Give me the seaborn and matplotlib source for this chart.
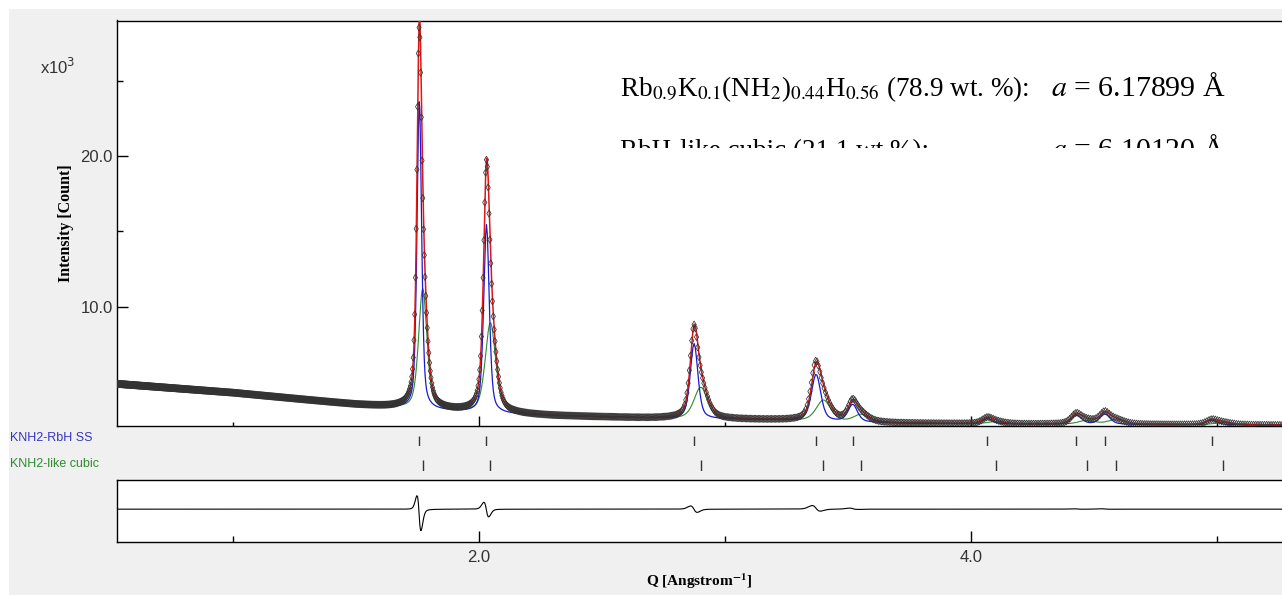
import numpy as np
import pandas as pd
import matplotlib
matplotlib.use("Agg")
import matplotlib.pyplot as plt
import seaborn as sns
from matplotlib.patches import Rectangle
from matplotlib.transforms import Bbox, TransformedBbox
from matplotlib.ticker import FixedLocator, NullFormatter, FixedFormatter

# ------------------------------------------------------------------
# Data (intensity in units of 10^3 counts)
# ------------------------------------------------------------------
q_limits = [0.528, 5.264]

# background level (observed baseline)
bg_q = [0.528, 1.0, 1.5, 1.7, 2.0, 2.3, 2.7, 3.2, 3.7, 4.2, 5.264]
bg_i = [4.88, 4.29, 3.50, 3.25, 2.95, 2.76, 2.60, 2.48, 2.27, 2.21, 2.15]

# phase 1: KNH2-RbH SS (blue)
ss_pos = [1.757, 2.030, 2.874, 3.370, 3.519, 4.066, 4.428, 4.544, 4.979]
ss_height = [20.5, 12.5, 5.0, 3.1, 1.15, 0.35, 0.60, 0.68, 0.30]
ss_fwhm = [0.022, 0.027, 0.037, 0.045, 0.045, 0.050, 0.050, 0.050, 0.055]

# phase 2: KNH2-like cubic (green)
cub_pos = [1.771, 2.046, 2.901, 3.400, 3.553, 4.100, 4.470, 4.588, 5.024]
cub_height = [8.0, 6.0, 2.1, 1.4, 0.5, 0.15, 0.25, 0.30, 0.15]
cub_fwhm = [0.040, 0.050, 0.065, 0.070, 0.070, 0.080, 0.080, 0.080, 0.085]

# observed peaks (slightly different from the fit -> difference curve)
obs_ss_pos = [1.7558, 2.029, 2.8725, 3.3675, 3.5175, 4.066, 4.427, 4.543, 4.979]
obs_ss_height = [20.0, 12.45, 5.0, 3.2, 1.2, 0.35, 0.62, 0.70, 0.30]

ytick_vals = [10.0, 20.0]
ytick_labels = ["10.0", "20.0"]
yminor_vals = [5.0, 15.0, 25.0]
xtick_vals = [2.0, 4.0]
xtick_labels = ["2.0", "4.0"]
xminor_vals = [1.0, 3.0, 5.0]

phase_names = ["KNH2-RbH SS", "KNH2-like cubic"]
line1_left = r"Rb$_{0.9}$K$_{0.1}$(NH$_{2}$)$_{0.44}$H$_{0.56}$ (78.9 wt. %):"
line1_right = r"$a$ = 6.17899 Å"
line2_left = "RbH-like cubic (21.1 wt %):"
line2_right = r"$a$ = 6.10120 Å"

# ------------------------------------------------------------------
# Profiles
# ------------------------------------------------------------------
q = np.geomspace(q_limits[0], q_limits[1], 1350)
bg = np.interp(q, bg_q, bg_i)


def profile(pos, height, fwhm, eta=0.5):
    out = np.zeros_like(q)
    for p, h, w in zip(pos, height, fwhm):
        x = (q - p) / (w / 2.0)
        lor = 1.0 / (1.0 + x ** 2)
        gau = np.exp(-np.log(2) * x ** 2)
        out += h * (eta * lor + (1 - eta) * gau)
    return out


ss_curve = bg + profile(ss_pos, ss_height, ss_fwhm)
cub_curve = bg + profile(cub_pos, cub_height, cub_fwhm)
calc_curve = bg + profile(ss_pos, ss_height, ss_fwhm) + profile(cub_pos, cub_height, cub_fwhm)
obs_curve = bg + profile(obs_ss_pos, obs_ss_height, ss_fwhm) + profile(cub_pos, cub_height, cub_fwhm)
diff_curve = obs_curve - calc_curve

df = pd.DataFrame({"Q": q, "obs": obs_curve, "calc": calc_curve,
                   "ss": ss_curve, "cub": cub_curve, "diff": diff_curve})

# ------------------------------------------------------------------
# Figure
# ------------------------------------------------------------------
sns.set_theme(style="white")
plt.rcParams["font.family"] = ["Liberation Sans", "DejaVu Sans"]
plt.rcParams["mathtext.fontset"] = "stix"

W, H = 1282, 595
fig = plt.figure(figsize=(W / 100, H / 100), dpi=100, facecolor="white")


def fx(px):
    return px / W


def fy(py):
    return 1 - py / H


fig.add_artist(Rectangle((fx(9), 0), 1, fy(9), transform=fig.transFigure,
                         facecolor="#f0f0f0", edgecolor="none", zorder=-10))

left = fx(117)
width = 1 - left
ax = fig.add_axes([left, fy(425.5), width, (425.5 - 20.5) / H])
ax_t1 = fig.add_axes([left, fy(446), width, 10 / H])
ax_t2 = fig.add_axes([left, fy(471), width, 11 / H])
ax_d = fig.add_axes([left, fy(542.3), width, 61.8 / H])

RED = "#e01515"
BLUE = "#1a1ad0"
GREEN = "#2e8b2e"

sns.lineplot(data=df, x="Q", y="cub", ax=ax, color=GREEN, linewidth=0.8, sort=False, zorder=2)
sns.lineplot(data=df, x="Q", y="ss", ax=ax, color=BLUE, linewidth=0.9, sort=False, zorder=3)
sns.lineplot(data=df, x="Q", y="calc", ax=ax, color=RED, linewidth=1.1, sort=False, zorder=4)
sns.scatterplot(data=df, x="Q", y="obs", ax=ax, marker="d", s=13, facecolor="none",
                edgecolor="#333333", linewidth=0.55, zorder=5)

ax.set_xlim(q_limits)
ax.set_ylim(2.12, 28.99)
ax.set_facecolor("white")
ax.set_xlabel("")
ax.set_ylabel("Intensity [Count]", family="Liberation Serif", fontweight="bold",
              fontsize=11.5, color="black", labelpad=5)
ax.yaxis.set_major_locator(FixedLocator(ytick_vals))
ax.yaxis.set_major_formatter(FixedFormatter(ytick_labels))
ax.yaxis.set_minor_locator(FixedLocator(yminor_vals))
ax.xaxis.set_major_locator(FixedLocator(xtick_vals))
ax.xaxis.set_minor_locator(FixedLocator(xminor_vals))
ax.xaxis.set_major_formatter(NullFormatter())
ax.tick_params(axis="y", which="major", direction="in", length=8, width=1,
               color="black", labelsize=12, labelcolor="#333333", pad=3, left=True)
ax.tick_params(axis="y", which="minor", direction="in", length=4.3, width=1,
               color="black", left=True)
ax.tick_params(axis="x", which="major", direction="in", length=7.2, width=1,
               color="black", bottom=True)
ax.tick_params(axis="x", which="minor", direction="in", length=3.2, width=1,
               color="black", bottom=True)
for s in ["left", "top", "bottom"]:
    ax.spines[s].set_color("black")
    ax.spines[s].set_linewidth(1.0)
ax.spines["right"].set_visible(False)

# reflection tick marks
for axt, pos in ((ax_t1, ss_pos), (ax_t2, cub_pos)):
    sns.rugplot(x=pos, ax=axt, height=1.0, color="#333333", linewidth=1.0,
                expand_margins=False)
    axt.set_xlim(q_limits)
    axt.set_ylim(0, 1)
    axt.axis("off")
    axt.patch.set_alpha(0)

fig.text(fx(10), fy(438), phase_names[0], color="#3535c0", fontsize=9, va="center", ha="left")
fig.text(fx(10), fy(464), phase_names[1], color="#2f8a2f", fontsize=9, va="center", ha="left")

# difference curve
sns.lineplot(data=df, x="Q", y="diff", ax=ax_d, color="black", linewidth=0.8, sort=False)
ax_d.set_xlim(q_limits)
ax_d.set_ylim(-2.75, 2.38)
ax_d.set_facecolor("white")
ax_d.set_ylabel("")
ax_d.set_yticks([])
ax_d.xaxis.set_major_locator(FixedLocator(xtick_vals))
ax_d.xaxis.set_major_formatter(FixedFormatter(xtick_labels))
ax_d.xaxis.set_minor_locator(FixedLocator(xminor_vals))
ax_d.tick_params(axis="x", which="major", direction="in", length=7.9, width=1,
                 color="black", labelsize=12, labelcolor="#333333", pad=5.5, bottom=True)
ax_d.tick_params(axis="x", which="minor", direction="in", length=4.3, width=1,
                 color="black", bottom=True)
for s in ["left", "top", "bottom"]:
    ax_d.spines[s].set_color("black")
    ax_d.spines[s].set_linewidth(1.0)
ax_d.spines["right"].set_visible(False)
ax_d.set_xlabel(r"Q [Angstrom$^{\mathbf{-1}}$]", family="Liberation Serif",
                fontweight="bold", fontsize=11, color="black", labelpad=5)

# x10^3 multiplier
fig.text(fx(40), fy(74), r"x10$^{3}$", fontsize=12, color="#333333", ha="left",
         va="baseline", math_fontfamily="dejavusans")

# annotation
tfont = dict(family="Liberation Serif", fontsize=19.5, color="black", va="baseline")
rfont = dict(family="Liberation Serif", fontsize=21.5, color="black", va="baseline")
fig.text(fx(620), fy(96), line1_left, ha="left", **tfont)
fig.text(fx(1226), fy(96), line1_right, ha="right", **rfont)
clip_inv = TransformedBbox(Bbox([[0, fy(148)], [1, 1]]), fig.transFigure)
t1 = fig.text(fx(620), fy(158), line2_left, ha="left", **tfont)
t2 = fig.text(fx(1226), fy(158), line2_right, ha="right", **rfont)
for t in (t1, t2):
    t.set_clip_on(True)
    t.set_clip_box(clip_inv)

fig.savefig("out.png", dpi=100, facecolor=fig.get_facecolor())
